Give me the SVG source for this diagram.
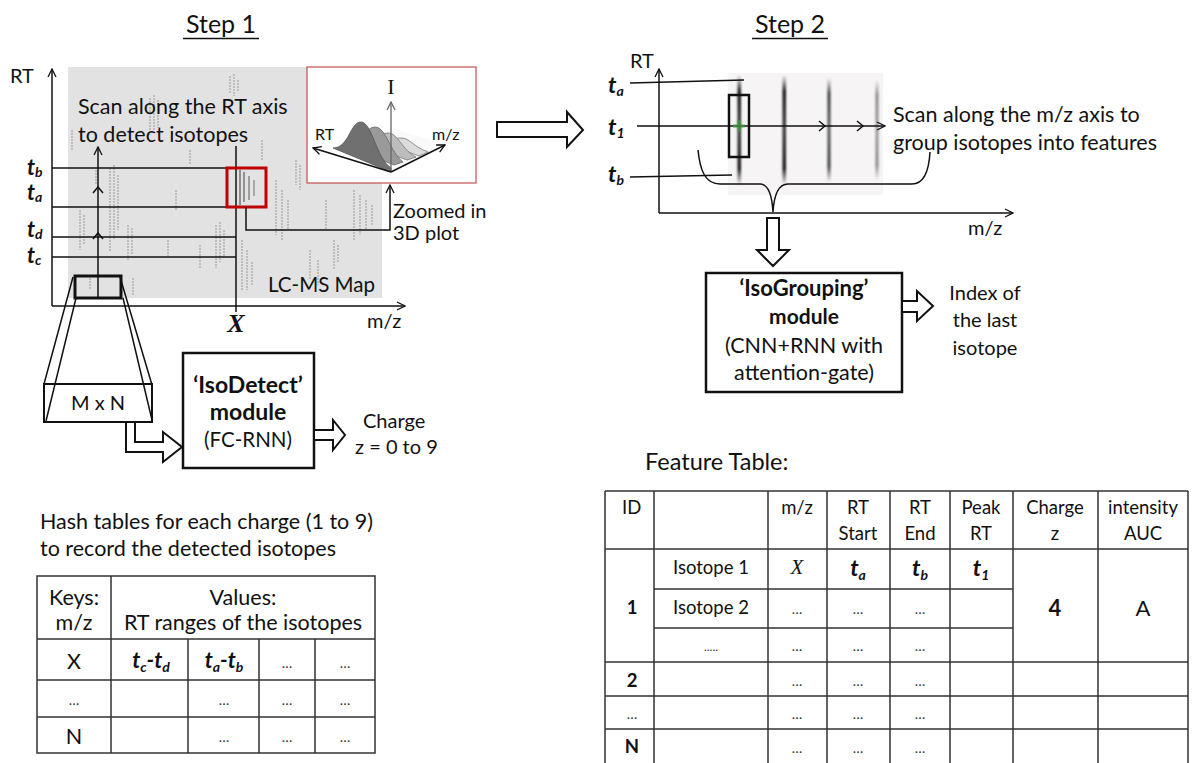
<svg xmlns="http://www.w3.org/2000/svg" width="1193" height="763" viewBox="0 0 1193 763">
<style>
text{font-family:Lato,"Liberation Sans",sans-serif;fill:#111}
.t20{font-size:20px}
.t21{font-size:21.5px}
.t18{font-size:18.5px}
.b{font-weight:bold}
.c{text-anchor:middle}
.tv{font-family:Lato,"Liberation Sans",sans-serif;font-weight:bold;font-style:italic;font-size:23px}
.ser{font-family:"Liberation Serif",serif;font-style:italic}
.ln{stroke:#111;stroke-width:1.5;fill:none}
.grid{stroke:#333;stroke-width:1.5;fill:none}
.box{stroke:#111;stroke-width:2.5;fill:#fff}
.hol{stroke:#111;stroke-width:2;fill:#fff;stroke-linejoin:miter}
.st{stroke:#a5a5a5;stroke-width:1.2;stroke-dasharray:2 1}
.dots{font-size:14px;fill:#333}
</style>
<defs>
<marker id="ch" viewBox="0 0 10 10" refX="9" refY="5" markerWidth="10" markerHeight="10" markerUnits="userSpaceOnUse" orient="auto"><path d="M1,1 L9,5 L1,9" fill="none" stroke="#111" stroke-width="1.3"/></marker>
<marker id="chg" viewBox="0 0 10 10" refX="9" refY="5" markerWidth="10" markerHeight="10" markerUnits="userSpaceOnUse" orient="auto"><path d="M1,1 L9,5 L1,9" fill="none" stroke="#666" stroke-width="1.3"/></marker>
<filter id="blur" x="-2" y="-0.2" width="5" height="1.4"><feGaussianBlur stdDeviation="1.1"/></filter>
<linearGradient id="pk" x1="0" y1="0" x2="0" y2="1"><stop offset="0" stop-color="#000" stop-opacity="0"/><stop offset="0.15" stop-color="#000" stop-opacity="0.9"/><stop offset="0.5" stop-color="#000" stop-opacity="0.75"/><stop offset="0.85" stop-color="#000" stop-opacity="0.9"/><stop offset="1" stop-color="#000" stop-opacity="0"/></linearGradient>
</defs>

<!-- Step 1 -->
<g id="step1-title">
<text x="221" y="33" class="c" style="font-size:25px">Step 1</text>
<line x1="183" y1="38.5" x2="259" y2="38.5" stroke="#111" stroke-width="1.5"/>
</g>

<g id="lcms-map">
<rect x="68" y="67" width="314" height="231" fill="#e2e2e2"/>
<g class="st">
<line x1="150" y1="98" x2="150" y2="135"/><line x1="154" y1="95" x2="154" y2="130"/><line x1="158" y1="100" x2="158" y2="128"/>
<line x1="230" y1="76" x2="230" y2="94"/><line x1="234" y1="74" x2="234" y2="96"/><line x1="238" y1="80" x2="238" y2="92"/>
<line x1="80" y1="210" x2="80" y2="250"/><line x1="84" y1="215" x2="84" y2="245"/>
<line x1="110" y1="168" x2="110" y2="252"/><line x1="114" y1="165" x2="114" y2="240"/><line x1="118" y1="175" x2="118" y2="230"/>
<line x1="128" y1="225" x2="128" y2="260"/><line x1="132" y1="228" x2="132" y2="255"/>
<line x1="90" y1="278" x2="90" y2="290"/><line x1="133" y1="278" x2="133" y2="296"/>
<line x1="216" y1="225" x2="216" y2="268"/><line x1="220" y1="222" x2="220" y2="262"/><line x1="224" y1="230" x2="224" y2="258"/>
<line x1="242" y1="240" x2="242" y2="290"/><line x1="247" y1="250" x2="247" y2="290"/><line x1="252" y1="262" x2="252" y2="286"/>
<line x1="276" y1="180" x2="276" y2="235"/><line x1="282" y1="190" x2="282" y2="240"/><line x1="288" y1="200" x2="288" y2="230"/>
<line x1="296" y1="160" x2="296" y2="185"/><line x1="300" y1="165" x2="300" y2="190"/>
<line x1="326" y1="200" x2="326" y2="230"/><line x1="334" y1="240" x2="334" y2="270"/><line x1="338" y1="245" x2="338" y2="262"/>
<line x1="354" y1="190" x2="354" y2="240"/><line x1="360" y1="195" x2="360" y2="235"/><line x1="366" y1="200" x2="366" y2="230"/><line x1="372" y1="205" x2="372" y2="225"/>
<line x1="176" y1="190" x2="176" y2="210"/><line x1="190" y1="150" x2="190" y2="165"/><line x1="200" y1="245" x2="200" y2="268"/>
<line x1="262" y1="140" x2="262" y2="160"/><line x1="310" y1="250" x2="310" y2="280"/><line x1="318" y1="260" x2="318" y2="285"/>
<line x1="72" y1="130" x2="72" y2="150"/><line x1="96" y1="170" x2="96" y2="185"/><line x1="168" y1="240" x2="168" y2="256"/>
</g>
<g stroke-width="1.4">
<line x1="240" y1="170" x2="240" y2="205" stroke="#6a6a6a"/><line x1="244" y1="172" x2="244" y2="202" stroke="#707070"/><line x1="249" y1="176" x2="249" y2="200" stroke="#808080"/><line x1="254" y1="180" x2="254" y2="196" stroke="#909090"/>
</g>
</g>

<g id="step1-axes">
<line x1="52" y1="306" x2="52" y2="69" class="ln" marker-end="url(#ch)"/>
<line x1="52" y1="306" x2="405" y2="306" class="ln" marker-end="url(#ch)"/>
<text x="10" y="83" class="t20">RT</text>
<text x="367" y="328" class="t20">m/z</text>
<text x="268" y="292" style="font-size:20.5px">LC-MS Map</text>
</g>

<g id="step1-t-lines">
<line x1="52" y1="168" x2="227" y2="168" class="ln"/>
<line x1="52" y1="207" x2="227" y2="207" class="ln"/>
<line x1="52" y1="237" x2="236" y2="237" class="ln"/>
<line x1="52" y1="257" x2="236" y2="257" class="ln"/>
<line x1="236" y1="146" x2="236" y2="312" class="ln"/>
<text x="27" y="175" class="tv" style="font-size:22px">t<tspan dy="2" font-size="14px">b</tspan></text>
<text x="27" y="200" class="tv" style="font-size:22px">t<tspan dy="2" font-size="14px">a</tspan></text>
<text x="27" y="237" class="tv" style="font-size:22px">t<tspan dy="2" font-size="14px">d</tspan></text>
<text x="27" y="263" class="tv" style="font-size:22px">t<tspan dy="2" font-size="14px">c</tspan></text>
<text x="236" y="332" class="c ser" style="font-size:26px;font-weight:bold">X</text>
</g>

<g id="scan-rt">
<text x="78" y="114" class="t21">Scan along the RT axis</text>
<text x="78" y="142" class="t21">to detect isotopes</text>
<line x1="98" y1="298" x2="98" y2="147" class="ln" marker-end="url(#ch)"/>
<path d="M93,193 L98,187 L103,193 M93,239 L98,233 L103,239" class="ln" stroke-width="1.3"/>
<rect x="75" y="276" width="46" height="22" fill="none" stroke="#111" stroke-width="3"/>
</g>

<g id="red-box">
<rect x="227" y="168" width="39" height="39" fill="none" stroke="#c00000" stroke-width="3"/>
</g>

<g id="inset-3d">
<rect x="307" y="67" width="169" height="116" fill="#fff" stroke="#c0504d" stroke-width="1.2"/>
<path d="M333,147 L391,172 L445,145 L393,128 Z" fill="#fafafa" stroke="none"/>
<path d="M379,141 C390,141 392,138 401,138 C410,138 412,146 428,152 L419,156 Z" fill="#dcdcdc" stroke="#777" stroke-width="0.8"/>
<path d="M361,143 C375,143 378,133 388,133 C398,133 402,150 416,157 L407,160 Z" fill="#bdbdbd" stroke="#777" stroke-width="0.8"/>
<path d="M347,146 C362,146 364,127 375,127 C386,127 390,152 403,162 L394,165 Z" fill="#9a9a9a" stroke="#666" stroke-width="0.8"/>
<path d="M333,148 C349,148 350,122 361,122 C372,122 376,158 391,168 L391,172 Z" fill="#707070" stroke="#555" stroke-width="0.8"/>
<line x1="391" y1="172" x2="391" y2="102" stroke="#666" stroke-width="1.3" marker-end="url(#chg)"/>
<line x1="391" y1="172" x2="313" y2="148" class="ln" stroke-width="1.3" marker-end="url(#ch)"/>
<line x1="391" y1="172" x2="445" y2="145" class="ln" stroke-width="1.3" marker-end="url(#ch)"/>
<text x="391" y="94" class="c" style="font-family:'Liberation Serif',serif;font-size:22px">I</text>
<text x="315" y="140" style="font-size:16px">RT</text>
<text x="432" y="140" style="font-size:16px">m/z</text>
</g>

<g id="zoom-label">
<text x="393" y="218" class="t20">Zoomed in</text>
<text x="393" y="240" class="t20">3D plot</text>
</g>

<g id="mxn">
<rect x="44" y="384" width="108" height="38" fill="#fff" stroke="#111" stroke-width="2"/>
<text x="98" y="410" class="c t20">M x N</text>
</g>

<g id="isodetect">
<rect x="183" y="353" width="131" height="115" class="box"/>
<text x="248" y="393" class="c b" style="font-size:23px">‘IsoDetect’</text>
<text x="248" y="420" class="c b" style="font-size:23px">module</text>
<text x="248" y="447" class="c" style="font-size:20.5px">(FC-RNN)</text>
</g>

<g id="charge">
<text x="363" y="428" class="t20">Charge</text>
<text x="355" y="454" class="t20">z = 0 to 9</text>
</g>

<g id="hash-table">
<text x="40" y="529" style="font-size:21.5px">Hash tables for each charge (1 to 9)</text>
<text x="40" y="556" style="font-size:21.5px">to record the detected isotopes</text>
<rect x="37" y="576" width="338" height="177" class="grid"/>
<path d="M111,576 V753 M37,639 H375 M37,680 H375 M37,717 H375 M188,639 V753 M259,639 V753 M315,639 V753" class="grid"/>
<text x="74" y="605" class="c t21">Keys:</text>
<text x="74" y="630" class="c t21">m/z</text>
<text x="243" y="605" class="c t21">Values:</text>
<text x="243" y="630" class="c t21">RT ranges of the isotopes</text>
<text x="74" y="669" class="c t21">X</text>
<text x="151" y="668" class="c tv" style="font-size:22px">t<tspan dy="4" font-size="14px">c</tspan><tspan dy="-4">-t</tspan><tspan dy="4" font-size="14px">d</tspan></text>
<text x="224" y="668" class="c tv" style="font-size:22px">t<tspan dy="4" font-size="14px">a</tspan><tspan dy="-4">-t</tspan><tspan dy="4" font-size="14px">b</tspan></text>
<text x="287" y="668" class="c dots">…</text>
<text x="345" y="668" class="c dots">…</text>
<text x="74" y="705" class="c dots">…</text>
<text x="224" y="705" class="c dots">…</text>
<text x="287" y="705" class="c dots">…</text>
<text x="345" y="705" class="c dots">…</text>
<text x="74" y="744" class="c t21">N</text>
<text x="224" y="742" class="c dots">…</text>
<text x="287" y="742" class="c dots">…</text>
<text x="345" y="742" class="c dots">…</text>
</g>

<!-- Step 2 -->
<g id="step2-title">
<text x="790" y="33" class="c" style="font-size:25px">Step 2</text>
<line x1="752" y1="38.5" x2="828" y2="38.5" stroke="#111" stroke-width="1.5"/>
</g>

<g id="step2-image">
<rect x="728" y="73" width="155" height="122" fill="#f6f4f4"/>
<g filter="url(#blur)">
<rect x="737.5" y="75" width="3.5" height="110" fill="url(#pk)"/>
<rect x="782.5" y="75" width="3.5" height="110" fill="url(#pk)"/>
<rect x="827.5" y="78" width="3" height="104" fill="url(#pk)" opacity="0.85"/>
<rect x="875.5" y="80" width="3" height="100" fill="url(#pk)" opacity="0.5"/>
</g>
</g>

<g id="step2-axes">
<line x1="659" y1="213" x2="659" y2="69" class="ln" marker-end="url(#ch)"/>
<line x1="659" y1="213" x2="1013" y2="213" class="ln" marker-end="url(#ch)"/>
<text x="630" y="68" class="t20">RT</text>
<text x="968" y="235" class="t20">m/z</text>
<line x1="630" y1="83" x2="744" y2="80" class="ln"/>
<line x1="630" y1="177" x2="732" y2="175" class="ln"/>
<line x1="637" y1="126" x2="885" y2="126" class="ln" marker-end="url(#ch)"/>
<path d="M819,121 L825,126 L819,131 M857,121 L863,126 L857,131" class="ln" stroke-width="1.3"/>
<text x="608" y="93" class="tv">t<tspan dy="3" font-size="14px">a</tspan></text>
<text x="608" y="135" class="tv">t<tspan dy="3" font-size="14px">1</tspan></text>
<text x="608" y="182" class="tv">t<tspan dy="3" font-size="14px">b</tspan></text>
<rect x="729" y="95" width="20" height="62" fill="none" stroke="#111" stroke-width="2.5"/>
<path d="M733,126 H745 M739,120 V132" stroke="#3a9a3a" stroke-width="3" opacity="0.8"/>
<path d="M698,150 C700,170 705,184 720,184 L760,184 C768,184 772,195 773,212 C774,195 778,184 788,184 L912,184 C925,184 929,170 930,152" class="ln"/>
<text x="893" y="122" class="t21">Scan along the m/z axis to</text>
<text x="893" y="150" class="t21">group isotopes into features</text>
</g>

<g id="isogrouping">
<rect x="706" y="273" width="196" height="119" class="box"/>
<text x="804" y="296" class="c b" style="font-size:22px">‘IsoGrouping’</text>
<text x="804" y="324" class="c b" style="font-size:21px">module</text>
<text x="804" y="353" class="c t21">(CNN+RNN with</text>
<text x="804" y="380" class="c t21">attention-gate)</text>
</g>

<g id="index-output">
<text x="985" y="300" class="c t20">Index of</text>
<text x="985" y="327" class="c t20">the last</text>
<text x="985" y="355" class="c t20">isotope</text>
</g>

<g id="feature-table">
<text x="645" y="470" style="font-size:23.5px">Feature Table:</text>
<path d="M605,491 H1188 M605,549 H1188 M654,589 H1013 M654,628 H1013 M605,662 H1188 M605,696 H1188 M605,729 H1188 M605,491 V763 M654,491 V763 M768,491 V763 M827,491 V763 M890,491 V763 M950,491 V763 M1013,491 V763 M1098,491 V763 M1188,491 V763" class="grid"/>
<text x="622" y="514" class="t18">ID</text>
<text x="797" y="514" class="c t18">m/z</text>
<text x="858" y="514" class="c t18">RT</text><text x="858" y="540" class="c t18">Start</text>
<text x="920" y="514" class="c t18">RT</text><text x="920" y="540" class="c t18">End</text>
<text x="981" y="514" class="c t18">Peak</text><text x="981" y="540" class="c t18">RT</text>
<text x="1055" y="514" class="c t18">Charge</text><text x="1055" y="540" class="c t18">z</text>
<text x="1143" y="514" class="c t18">intensity</text><text x="1143" y="540" class="c t18">AUC</text>
<text x="711" y="574" class="c t18">Isotope 1</text>
<text x="797" y="574" class="c ser" style="font-size:21px">X</text>
<text x="858" y="576" class="c tv" style="font-size:23px">t<tspan dy="4" font-size="14px">a</tspan></text>
<text x="920" y="576" class="c tv" style="font-size:23px">t<tspan dy="4" font-size="14px">b</tspan></text>
<text x="981" y="576" class="c tv" style="font-size:23px">t<tspan dy="4" font-size="14px">1</tspan></text>
<text x="632" y="614" class="c t18 b">1</text>
<text x="711" y="614" class="c t18">Isotope 2</text>
<text x="1055" y="616" class="c b" style="font-size:22px">4</text>
<text x="1143" y="616" class="c" style="font-size:22px">A</text>
<text x="711" y="651" class="c" style="font-size:12px;fill:#333">.....</text>
<text x="632" y="687" class="c t18 b">2</text>
<text x="632" y="719" class="c dots">…</text>
<text x="632" y="753" class="c t18 b">N</text>
<g class="dots">
<text x="797" y="614" class="c dots">…</text><text x="858" y="614" class="c dots">…</text><text x="920" y="614" class="c dots">…</text>
<text x="797" y="651" class="c dots">…</text><text x="858" y="651" class="c dots">…</text><text x="920" y="651" class="c dots">…</text>
<text x="797" y="686" class="c dots">…</text><text x="858" y="686" class="c dots">…</text><text x="920" y="686" class="c dots">…</text>
<text x="797" y="719" class="c dots">…</text><text x="858" y="719" class="c dots">…</text><text x="920" y="719" class="c dots">…</text>
<text x="797" y="753" class="c dots">…</text><text x="858" y="753" class="c dots">…</text><text x="920" y="753" class="c dots">…</text>
</g>
</g>

<g id="connectors">
<path d="M246,207 V230 H390 V185" class="ln" marker-end="url(#ch)"/>
<path d="M73,277 L44,384 M76,298 L46,421 M120,277 L152,385 M123,298 L152,420" class="ln" stroke-width="1.3"/>
<polygon points="126,422 126,452 163,452 163,462 182,447 163,432 163,442 135,442 135,422" class="hol"/>
<polygon points="314,430 333,430 333,420 345,435 333,450 333,440 314,440" class="hol"/>
<polygon points="497,122 567,122 567,112 583,130 567,147 567,137 497,137" class="hol"/>
<polygon points="767,218 779,218 779,250 789,250 773,266 757,250 767,250" class="hol"/>
<polygon points="902,301 917,301 917,291 933,306 917,321 917,312 902,312" class="hol"/>
</g>
</svg>
